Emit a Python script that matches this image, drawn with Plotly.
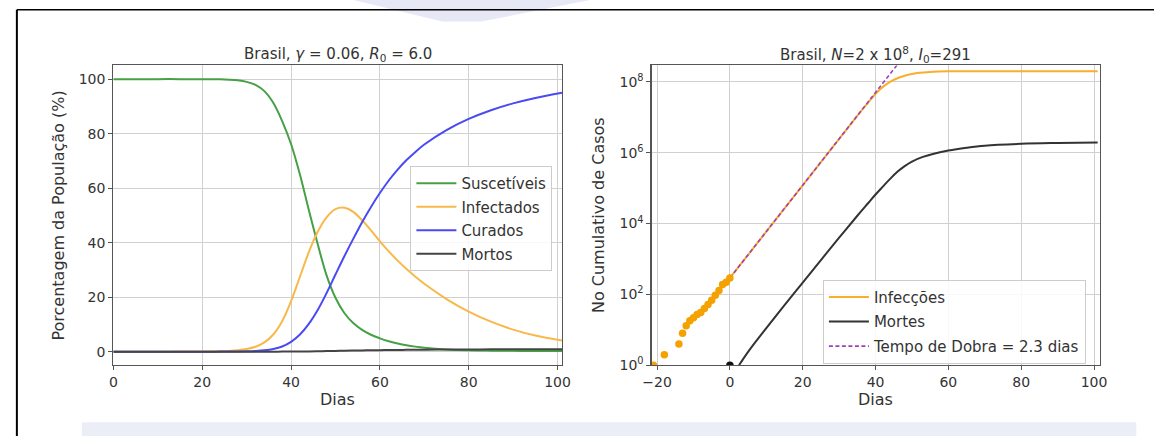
import plotly.graph_objects as go

# ---------------- data ----------------
# Left panel: SIR-D model, % of population
days_sir = [0, 5, 10, 15, 20, 22, 24, 26, 28, 30, 32, 34, 36, 38, 40, 42, 44, 46, 48, 50,
            52, 54, 56, 58, 60, 62, 64, 66, 68, 70, 75, 80, 85, 90, 95, 101]
suscetiveis = [100, 100, 100, 100, 99.98, 99.96, 99.92, 99.8, 99.55, 99.0, 97.9, 95.6, 91.3,
               84.6, 76.2, 65.0, 52.0, 39.5, 28.0, 19.8, 14.2, 10.5, 8.0, 6.2, 4.9, 3.8,
               3.0, 2.35, 1.85, 1.45, 0.8, 0.5, 0.37, 0.3, 0.27, 0.25]
infectados = [0, 0, 0.01, 0.02, 0.05, 0.08, 0.15, 0.28, 0.52, 0.97, 1.8, 3.4, 6.3, 11.2,
              18.5, 27.5, 36.5, 44.0, 49.3, 52.3, 52.8, 51.3, 48.2, 44.5, 40.5, 36.8, 33.4,
              30.3, 27.5, 24.9, 19.3, 14.7, 11.0, 8.1, 5.9, 4.1]
curados = [0, 0, 0, 0, 0, 0.01, 0.02, 0.04, 0.08, 0.15, 0.28, 0.52, 1.0, 1.9, 3.6, 6.3,
           10.2, 15.3, 21.5, 28.3, 35.0, 41.4, 47.5, 53.1, 58.2, 62.8, 66.8, 70.3, 73.3,
           76.0, 81.3, 85.4, 88.6, 91.1, 93.1, 95.0]
mortos = [0, 0, 0, 0, 0, 0, 0, 0, 0, 0, 0, 0, 0.01, 0.02, 0.04, 0.07, 0.1, 0.15, 0.21, 0.28,
          0.34, 0.4, 0.46, 0.51, 0.56, 0.6, 0.64, 0.67, 0.7, 0.73, 0.78, 0.82, 0.86, 0.89,
          0.91, 0.93]

# Right panel: cumulative cases (log scale)
days_inf = [0, 10, 20, 30, 34, 36, 38, 40, 42, 44, 46, 48, 50, 52, 55, 60, 70, 80, 101]
infeccoes = [291, 5.9e3, 1.2e5, 2.45e6, 8.1e6, 1.48e7, 2.6e7, 4.6e7, 7.2e7, 1.0e8, 1.26e8,
             1.48e8, 1.66e8, 1.8e8, 1.9e8, 1.97e8, 1.995e8, 2.0e8, 2.0e8]
days_mortes = [2.5, 5, 10, 15, 20, 25, 30, 35, 38, 40, 42, 44, 46, 48, 50, 53, 56, 60, 65,
               70, 80, 90, 101]
mortes = [1, 2.4, 11.2, 50, 214, 933, 3981, 1.66e4, 3.8e4, 6.6e4, 1.1e5, 1.82e5, 2.88e5,
          4.17e5, 5.62e5, 7.59e5, 9.33e5, 1.15e6, 1.38e6, 1.58e6, 1.78e6, 1.88e6, 1.95e6]
days_dobra = [0, 46]
dobra = [291, 3.05e8]
days_obs = [-21, -18, -14, -13, -12, -11, -10, -9, -8, -7, -6, -5, -4, -3, -2, -1, 0]
casos_obs = [1, 2, 4, 8, 13, 18, 22, 27, 31, 40, 52, 68, 95, 130, 190, 220, 291]
days_obs_mortes = [0]
mortes_obs = [1]

left_xticks = [0, 20, 40, 60, 80, 100]
left_yticks = [0, 20, 40, 60, 80, 100]
right_xticks = [-20, 0, 20, 40, 60, 80, 100]
right_yticks = [1, 1e2, 1e4, 1e6, 1e8]
right_yticktext = ["10<sup>0</sup>", "10<sup>2</sup>", "10<sup>4</sup>", "10<sup>6</sup>",
                   "10<sup>8</sup>"]

# ---------------- figure ----------------
W, H = 1163, 444
FONT = "DejaVu Sans"
TXT = "#333333"

def px_x(p):
    return p / W

def px_y(p):
    return (H - p) / H

fig = go.Figure()

LW = 2.0
left_series = [
    ("Suscetíveis", suscetiveis, "#46a046"),
    ("Infectados", infectados, "#f8b84a"),
    ("Curados", curados, "#4a4af5"),
    ("Mortos", mortos, "#444444"),
]
for i, (name, vals, col) in enumerate(left_series):
    fig.add_trace(go.Scatter(
        x=days_sir, y=vals, mode="lines", name=name,
        line=dict(color=col, width=LW, shape="spline", smoothing=1.0),
        xaxis="x", yaxis="y", legend="legend", legendgroup="l%d" % i))

fig.add_trace(go.Scatter(
    x=days_inf, y=infeccoes, mode="lines", name="Infecções",
    line=dict(color="#f9ae2e", width=LW, shape="spline", smoothing=0.7),
    xaxis="x2", yaxis="y2", legend="legend2", legendgroup="r0"))
fig.add_trace(go.Scatter(
    x=days_mortes, y=mortes, mode="lines", name="Mortes",
    line=dict(color="#333333", width=LW, shape="spline", smoothing=1.0),
    xaxis="x2", yaxis="y2", legend="legend2", legendgroup="r1"))
fig.add_trace(go.Scatter(
    x=days_dobra, y=dobra, mode="lines", name="Tempo de Dobra = 2.3 dias",
    line=dict(color="#a040b8", width=1.6, dash="4px,2.5px"),
    xaxis="x2", yaxis="y2", legend="legend2", legendgroup="r2"))
fig.add_trace(go.Scatter(
    x=days_obs, y=casos_obs, mode="markers", showlegend=False,
    marker=dict(color="#f5a100", size=7.5, line=dict(width=0)),
    xaxis="x2", yaxis="y2"))
fig.add_trace(go.Scatter(
    x=days_obs_mortes, y=mortes_obs, mode="markers", showlegend=False,
    marker=dict(color="#111111", size=7.5, line=dict(width=0)),
    xaxis="x2", yaxis="y2"))

axis_common = dict(
    showline=True, mirror=True, linecolor="#555555", linewidth=1.2,
    ticks="outside", ticklen=4, tickcolor="#555555", tickwidth=1,
    showgrid=True, gridcolor="#d0d0d0", gridwidth=1, zeroline=False,
    tickfont=dict(family=FONT, size=14, color=TXT),
)

y_dom = [px_y(372), px_y(66.7)]

fig.update_layout(
    width=W, height=H,
    margin=dict(l=0, r=0, t=0, b=0),
    paper_bgcolor="white", plot_bgcolor="white",
    font=dict(family=FONT, color=TXT),
    hovermode=False,
    xaxis=dict(domain=[px_x(106), px_x(561.7)], range=[0, 101], tickvals=left_xticks,
               anchor="y", **axis_common),
    yaxis=dict(domain=y_dom, range=[-5, 105], tickvals=left_yticks, anchor="x",
               **axis_common),
    xaxis2=dict(domain=[px_x(652.7), px_x(1108)], range=[-21.5, 101.6],
                tickvals=right_xticks, anchor="y2", **axis_common),
    yaxis2=dict(domain=y_dom, type="log", range=[0, 8.46], tickvals=right_yticks,
                ticktext=right_yticktext, anchor="x2", **axis_common),
    legend=dict(x=px_x(407.7), y=px_y(169), xanchor="left", yanchor="top",
                bgcolor="rgba(255,255,255,0.85)", bordercolor="#cccccc", borderwidth=1,
                font=dict(family=FONT, size=15, color=TXT), itemwidth=40,
                tracegroupgap=1),
    legend2=dict(x=px_x(826.7), y=px_y(285), xanchor="left", yanchor="top",
                 bgcolor="rgba(255,255,255,0.85)", bordercolor="#cccccc", borderwidth=1,
                 font=dict(family=FONT, size=15, color=TXT), itemwidth=40,
                 tracegroupgap=2),
)

annotations = [
    dict(text="Brasil, <i>γ</i> = 0.06, <i>R</i><sub>0</sub> = 6.0",
         x=px_x(333.8), y=px_y(56), xref="paper", yref="paper",
         xanchor="center", yanchor="middle", showarrow=False,
         font=dict(family=FONT, size=15, color=TXT)),
    dict(text="Brasil, <i>N</i>=2 x 10<sup>8</sup>, <i>I</i><sub>0</sub>=291",
         x=px_x(880.4), y=px_y(56), xref="paper", yref="paper",
         xanchor="center", yanchor="middle", showarrow=False,
         font=dict(family=FONT, size=15, color=TXT)),
    dict(text="Dias", x=px_x(333.8), y=px_y(407), xref="paper", yref="paper",
         xanchor="center", yanchor="middle", showarrow=False,
         font=dict(family=FONT, size=16, color=TXT)),
    dict(text="Dias", x=px_x(880.4), y=px_y(407), xref="paper", yref="paper",
         xanchor="center", yanchor="middle", showarrow=False,
         font=dict(family=FONT, size=16, color=TXT)),
    dict(text="Porcentagem da População (%)", x=px_x(50), y=px_y(219.3),
         xref="paper", yref="paper", xanchor="center", yanchor="middle",
         textangle=-90, showarrow=False, font=dict(family=FONT, size=16, color=TXT)),
    dict(text="No Cumulativo de Casos", x=px_x(599), y=px_y(219.3),
         xref="paper", yref="paper", xanchor="center", yanchor="middle",
         textangle=-90, showarrow=False, font=dict(family=FONT, size=16, color=TXT)),
]
fig.update_layout(annotations=annotations)

# page frame and faint background decoration
shapes = [
    dict(type="rect", xref="paper", yref="paper", x0=px_x(74), x1=px_x(1145),
         y0=0, y1=px_y(430), fillcolor="#eceef7", line=dict(width=0), layer="below"),
    dict(type="path", xref="paper", yref="paper",
         path="M %f,%f L %f,%f L %f,%f L %f,%f Z" % (px_x(350), px_y(0), px_x(590), px_y(0),
                                                    px_x(480), px_y(22), px_x(440), px_y(22)),
         fillcolor="#e6e8f5", line=dict(width=0), layer="below"),
    dict(type="line", xref="paper", yref="paper", x0=px_x(8), x1=1, y0=px_y(10), y1=px_y(10),
         line=dict(color="black", width=1.5)),
    dict(type="line", xref="paper", yref="paper", x0=px_x(8), x1=px_x(8), y0=0, y1=px_y(10),
         line=dict(color="black", width=2)),
]
fig.update_layout(shapes=shapes)

fig.write_html(
    "out.html",
    config={"displayModeBar": False, "staticPlot": True},
    post_script="document.body.style.margin='0px';document.body.style.padding='0px';"
                "document.documentElement.style.overflow='hidden';",
)
